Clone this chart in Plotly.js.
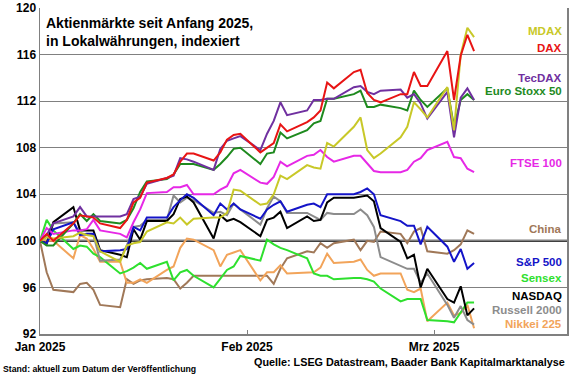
<!DOCTYPE html>
<html>
<head>
<meta charset="utf-8">
<script src="https://cdn.plot.ly/plotly-3.0.1.min.js"></script>
<style>html,body{margin:0;padding:0;background:#fff;}#chart{width:580px;height:375px;}</style>
</head>
<body>
<div id="chart"></div>
<script>
// Trading days (first day = index base 100)
const dates = [
 '2025-01-01','2025-01-02','2025-01-03','2025-01-06','2025-01-07','2025-01-08','2025-01-09','2025-01-10',
 '2025-01-13','2025-01-14','2025-01-15','2025-01-16','2025-01-17','2025-01-20','2025-01-21','2025-01-22',
 '2025-01-23','2025-01-24','2025-01-27','2025-01-28','2025-01-29','2025-01-30','2025-01-31',
 '2025-02-03','2025-02-04','2025-02-05','2025-02-06','2025-02-07','2025-02-10','2025-02-11','2025-02-12',
 '2025-02-13','2025-02-14','2025-02-17','2025-02-18','2025-02-19','2025-02-20','2025-02-21',
 '2025-02-24','2025-02-25','2025-02-26','2025-02-27','2025-02-28',
 '2025-03-03','2025-03-04','2025-03-05','2025-03-06','2025-03-07'];

const mdax = [100,100.3,100.2,100.4,100.7,100.5,100.4,99.1,98.2,99.6,99.8,99.9,100.8,101.6,101.5,102.0,101.4,101.9,102.0,102.0,102.4,104.4,104.3,
 103.1,103.2,104.0,105.6,105.3,106.5,106.3,106.2,108.4,108.1,109.8,110.6,107.8,107.1,107.5,108.9,109.8,111.9,111.3,110.6,
 113.2,109.5,116.0,118.3,117.5];
const dax = [100,100.6,100.0,101.5,102.2,102.1,102.0,101.5,101.1,101.8,103.3,103.7,105.0,105.4,105.7,106.8,107.5,107.5,106.9,107.6,108.7,109.1,109.2,
 107.6,108.0,108.4,110.0,109.4,110.2,110.6,111.2,113.6,113.1,114.5,114.7,112.7,112.1,111.9,112.6,112.6,114.5,113.3,113.3,
 116.3,112.1,115.9,117.7,116.3];
const tecdax = [100,100.5,101.5,102.1,102.9,102.1,102.1,102.1,102.1,102.3,103.6,103.8,104.9,105.4,105.6,107.1,107.0,106.8,106.1,107.9,108.6,108.8,109.0,
 107.8,109.2,110.3,111.9,110.8,111.2,112.1,112.1,112.2,112.2,113.2,113.3,112.8,112.6,112.9,113.0,112.3,112.6,111.8,110.5,
 112.8,108.9,112.3,113.1,112.1];
const stoxx50 = [100,99.6,99.6,101.5,102.3,101.7,102.3,101.7,101.5,101.8,102.8,104.2,105.1,105.3,105.7,106.6,106.6,106.6,106.1,106.6,107.2,107.9,108.0,
 106.6,107.5,107.6,109.3,108.8,109.5,110.1,110.3,112.2,112.2,112.6,112.9,111.5,111.5,111.7,111.4,111.2,112.9,112.1,111.5,
 113.1,109.8,112.1,112.6,112.1];
const ftse = [100,101.1,100.6,100.9,100.9,101.0,101.8,100.9,100.6,100.3,101.6,102.7,104.1,104.2,104.6,104.6,104.8,104.0,104.0,104.4,104.7,105.8,106.1,
 105.0,104.9,105.5,106.8,106.4,107.3,107.4,107.8,107.2,106.8,107.3,107.3,106.6,106.0,105.9,105.9,106.1,106.8,107.1,107.8,
 108.5,107.2,107.1,106.2,105.9];
const china = [100,97.3,95.8,95.6,96.3,96.4,95.8,94.5,94.3,96.7,96.3,96.6,96.7,96.8,96.7,95.9,96.4,97.0,97.0,97.0,97.0,97.0,97.0,
 97.0,97.0,96.3,97.6,98.5,99.1,99.0,99.8,99.4,99.8,100.1,99.2,100.0,99.9,100.8,100.6,99.8,100.8,101.1,99.1,
 98.9,99.2,99.7,100.9,100.6];
const sp500 = [100,99.8,101.0,101.6,100.5,100.6,100.6,99.1,99.2,99.3,101.2,100.9,102.0,102.0,102.9,103.5,104.0,103.7,102.2,103.2,102.7,103.2,102.7,
 101.9,102.7,103.1,103.4,102.5,103.1,103.2,102.9,104.0,104.0,104.0,104.2,104.5,104.0,102.2,101.7,101.3,101.3,99.7,101.2,
 99.5,98.2,99.3,97.6,98.1];
const sensex = [100,101.8,100.9,99.3,99.6,99.5,98.9,98.6,97.2,97.4,97.7,98.1,97.6,98.2,96.6,97.3,97.5,97.0,96.0,96.7,97.5,97.8,98.7,
 98.3,100.1,99.7,99.4,99.2,98.5,97.2,97.0,97.0,96.7,96.8,96.8,96.7,96.5,95.9,94.8,95.0,95.0,95.0,93.2,
 93.1,93.0,93.9,94.7,94.7];
const nasdaq = [100,99.8,101.6,102.9,100.9,100.9,100.9,99.2,98.8,98.6,101.0,100.1,101.7,101.7,102.3,103.6,103.8,103.3,100.2,102.2,101.7,101.9,101.6,
 100.4,101.8,102.0,102.5,101.1,102.1,101.7,101.8,103.3,103.7,103.7,103.8,103.9,103.4,101.1,99.9,98.5,98.8,96.0,97.6,
 95.0,94.7,96.1,93.6,94.2];
const russell = [100,99.7,101.5,101.6,100.6,100.5,100.5,98.3,98.4,99.6,101.2,101.3,101.8,101.8,103.9,103.3,103.7,103.5,102.4,102.5,102.2,103.2,102.7,
 101.4,102.8,103.8,103.4,102.4,102.4,102.1,101.8,102.4,102.3,102.3,102.7,102.2,101.2,98.6,97.9,97.6,97.6,96.4,97.2,
 94.5,93.4,94.4,93.2,92.8];
const nikkei = [100,100,100,98.5,100.5,100.2,99.3,98.2,98.2,96.4,96.4,96.7,96.4,97.5,97.8,99.4,100.2,100.1,99.2,97.8,98.8,99.0,99.2,
 96.6,97.3,97.3,97.9,97.2,97.3,97.3,97.7,98.9,98.1,98.2,98.4,97.5,97.0,97.2,97.2,95.8,95.6,95.9,93.1,
 94.7,93.6,93.8,94.5,92.5];

const seriesNames = ['China','Nikkei 225','Sensex','Russell 2000','NASDAQ','S&P 500','FTSE 100','Euro Stoxx 50','TecDAX','MDAX','DAX'];
const seriesValues = [china, nikkei, sensex, russell, nasdaq, sp500, ftse, stoxx50, tecdax, mdax, dax];
const seriesColors = ['#A07858','#F2A45A','#2EE02E','#8C8C8C','#000000','#1414C8','#E628E6','#1E8A1E','#7030A0','#C8C828','#E81414'];

// right-hand labels: name, color, value level where the label sits
const labelNames  = ['MDAX','DAX','TecDAX','Euro Stoxx 50','FTSE 100','China','S&P 500','Sensex','NASDAQ','Russell 2000','Nikkei 225'];
const labelColors = ['#C8C828','#E81414','#7030A0','#1E8A1E','#E628E6','#A07858','#1414C8','#2EE02E','#000000','#8C8C8C','#F2A45A'];
const labelLevels = [118.0,116.6,114.0,112.9,106.7,101.0,98.2,96.8,95.3,94.1,92.9];

const yTicks = [92,96,100,104,108,112,116,120];
const xTickVals = ['2025-01-01','2025-02-01','2025-03-01'];
const xTickText = ['Jan 2025','Feb 2025','Mrz 2025'];

const FONT = 'Liberation Sans, Arial, sans-serif';

const traces = seriesNames.map((n, i) => ({
  type: 'scatter', mode: 'lines', name: n, x: dates, y: seriesValues[i],
  line: {color: seriesColors[i], width: 2}, hoverinfo: 'skip'
}));

const annotations = labelNames.map((n, i) => ({
  xref: 'paper', yref: 'y', x: 0.995, y: labelLevels[i], xanchor: 'right', yanchor: 'middle',
  text: n, showarrow: false, font: {family: FONT, size: 11.5, color: labelColors[i], weight: 'bold'}
}));
annotations.push({
  xref: 'paper', yref: 'paper', x: 0.0076, y: 0.985, xanchor: 'left', yanchor: 'top', align: 'left',
  text: 'Aktienmärkte seit Anfang 2025,<br>in Lokalwährungen, indexiert', showarrow: false,
  font: {family: FONT, size: 14, color: '#000', weight: 'bold'}
});
annotations.push({
  xref: 'paper', yref: 'paper', x: 1.0, y: -0.086, xanchor: 'right', yanchor: 'middle',
  text: 'Quelle: LSEG Datastream, Baader Bank Kapitalmarktanalyse', showarrow: false,
  font: {family: FONT, size: 10.8, color: '#000', weight: 'bold'}
});
annotations.push({
  xref: 'paper', yref: 'paper', x: -0.074, y: -0.107, xanchor: 'left', yanchor: 'middle',
  text: 'Stand: aktuell zum Datum der Veröffentlichung', showarrow: false,
  font: {family: FONT, size: 8.7, color: '#000', weight: 'bold'}
});

const layout = {
  width: 580, height: 375,
  margin: {l: 40, r: 13, t: 8, b: 41},
  paper_bgcolor: '#fff', plot_bgcolor: '#fff',
  showlegend: false,
  font: {family: FONT, color: '#000'},
  xaxis: {
    type: 'date', range: ['2025-01-01', '2025-03-20 22:00'],
    tickmode: 'array', tickvals: xTickVals, ticktext: xTickText,
    ticks: 'inside', ticklen: 4, tickcolor: '#808080',
    ticklabelstandoff: 1,
    showgrid: false, zeroline: false,
    showline: true, linecolor: '#808080', linewidth: 1.5, mirror: false,
    tickfont: {family: FONT, size: 12, color: '#000', weight: 'bold'}
  },
  yaxis: {
    range: [92, 120], tickmode: 'array', tickvals: yTicks,
    showgrid: true, gridcolor: '#808080', gridwidth: 1,
    zeroline: false, ticks: '',
    showline: true, linecolor: '#808080', linewidth: 1.5, mirror: true,
    tickfont: {family: FONT, size: 12, color: '#000', weight: 'bold'}
  },
  shapes: [{
    type: 'line', xref: 'paper', yref: 'y', x0: 0, x1: 1, y0: 100, y1: 100,
    line: {color: '#000', width: 2}, layer: 'below'
  }],
  annotations: annotations
};

Plotly.newPlot('chart', traces, layout, {staticPlot: true, displayModeBar: false});
</script>
</body>
</html>
